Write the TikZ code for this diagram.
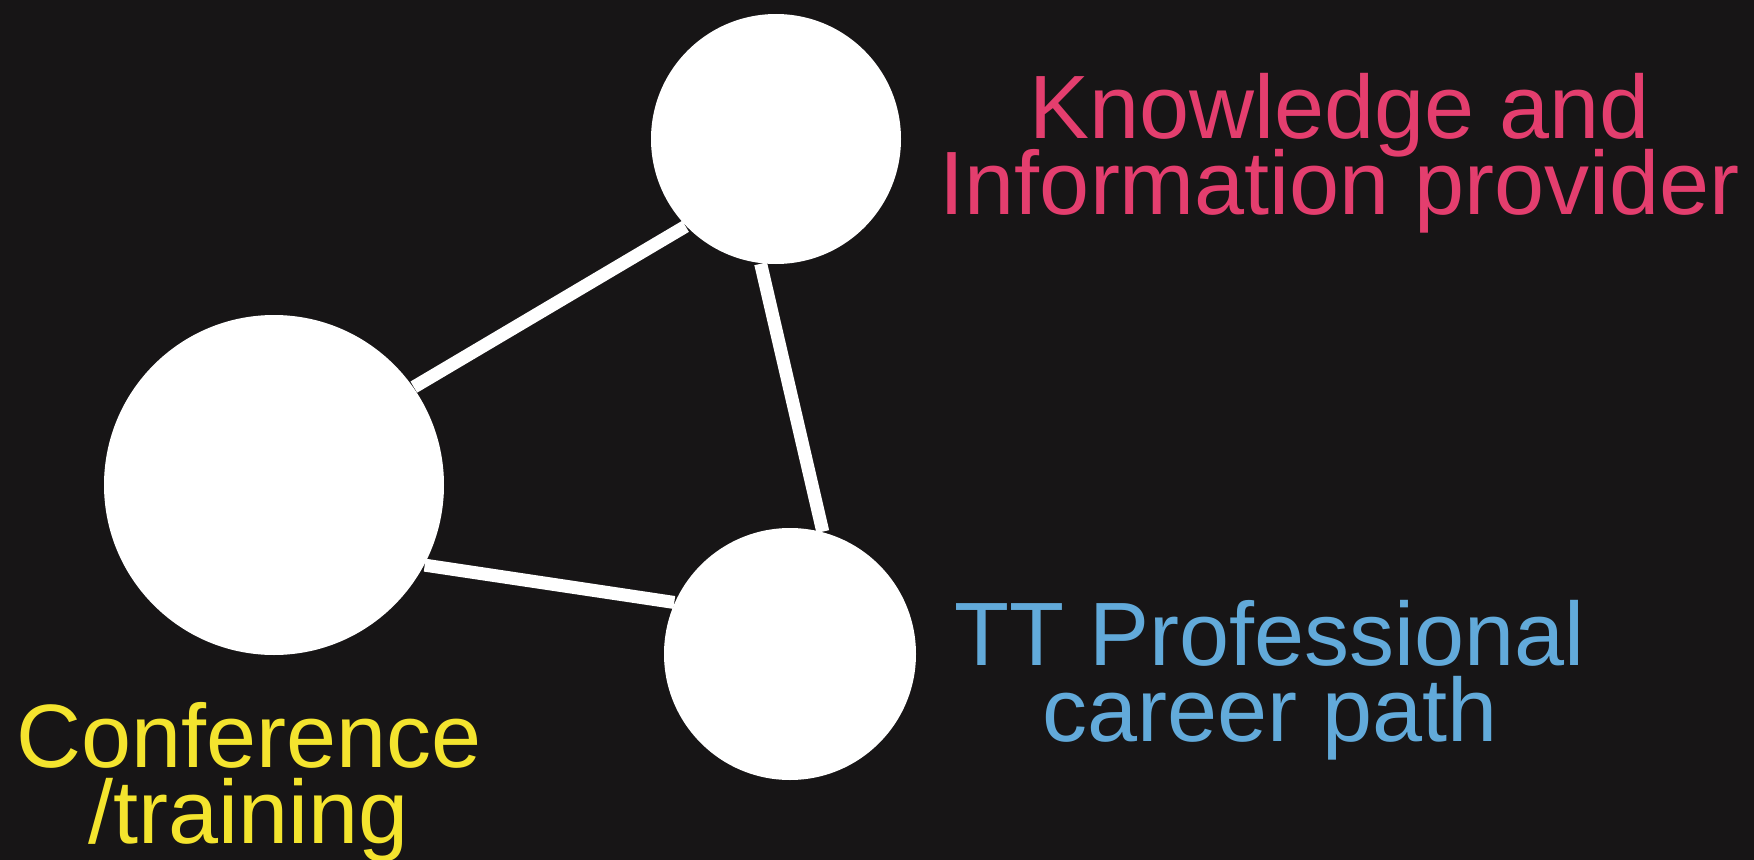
\documentclass[tikz,border=0pt]{standalone}
\usepackage{fontspec}
\setmainfont{Liberation Sans}
\definecolor{bgdark}{RGB}{23,21,22}
\definecolor{knowpink}{RGB}{228,62,110}
\definecolor{pathblue}{RGB}{98,170,218}
\definecolor{confyellow}{RGB}{244,228,46}
\newcommand{\capfont}{\fontsize{25.6}{21.6}\selectfont\setlength{\lineskiplimit}{-20pt}}
\tikzset{
	hub/.style={circle, fill=white, inner sep=0pt},
	link/.style={white, line width=0.13cm},
	caption/.style={align=center, inner sep=0pt, font=\capfont}
}

\begin{document}
\begin{tikzpicture}
			%%%%% START %%%%%
			
			\fill[bgdark] (0, 0) rectangle (17.54, -8.60);
			\useasboundingbox (0, 0) rectangle (17.54, -8.60);
			
			\node[hub, minimum size=2.5cm] (know) at (7.76, -1.39) {};
			\node[hub, minimum size=3.4cm] (conf) at (2.74, -4.85) {};
			\node[hub, minimum size=2.52cm] (career) at (7.90, -6.54) {};
			
			\draw[link] (conf.35) -- (know.224);
			\draw[link] (know.263) -- (career.75);
			\draw[link] (conf.-28) -- (career.156);
			
			\node[caption, text=knowpink] (knowlbl) at (13.40, -1.53) {Knowledge and\\Information provider};
			\node[caption, text=pathblue] (careerlbl) at (12.70, -6.80) {TT Professional\\career path};
			\node[caption, text=confyellow] (conflbl) at (2.49, -7.82) {Conference\\/training};
			
			%%%%% END %%%%%
\end{tikzpicture}
\end{document}
